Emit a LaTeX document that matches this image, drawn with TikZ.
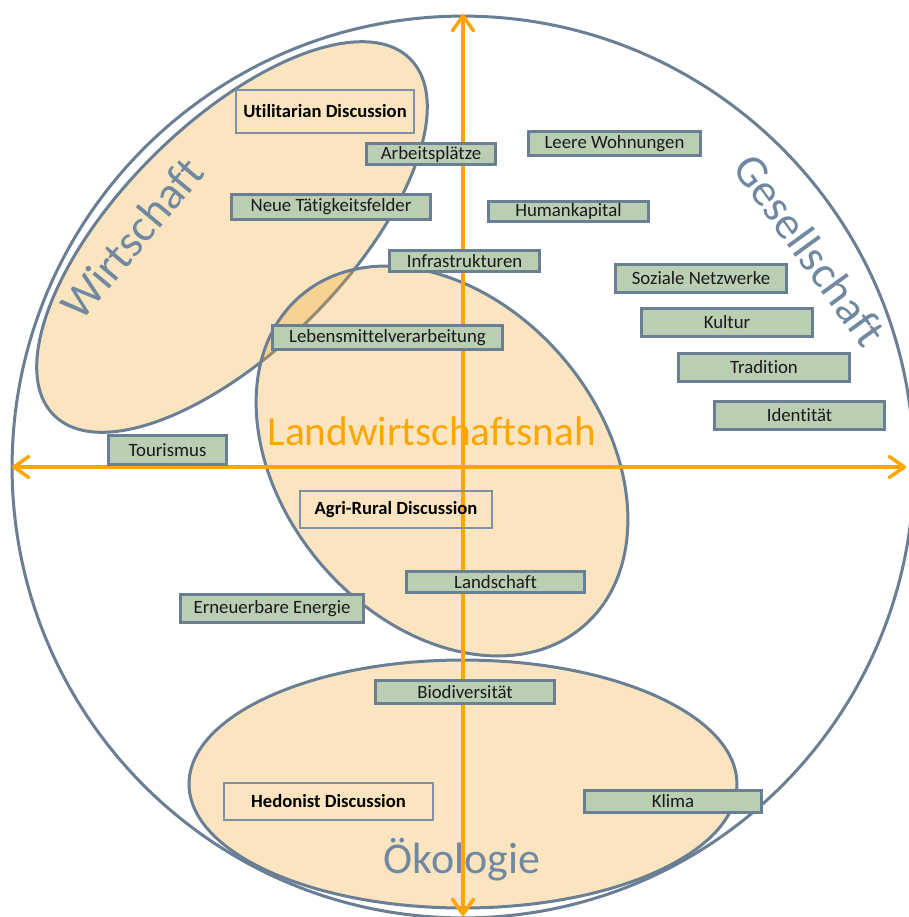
\documentclass[tikz,border=0pt]{standalone}
\usepackage{fontspec}
\setmainfont{Carlito}[Ligatures=NoCommon]
\usetikzlibrary{arrows.meta}
\definecolor{Slate}{HTML}{6A7E94}
\definecolor{SlateText}{HTML}{7088A0}
\definecolor{Sage}{HTML}{BACEB3}
\definecolor{Amber}{HTML}{FFA500}
\definecolor{Peach}{HTML}{F2A82D}

\begin{document}
\begin{tikzpicture}[x=0.02cm, y=-0.02cm,
    topic/.style={rectangle, draw=Slate, fill=Sage, line width=0.065cm,
                  inner sep=0pt, font=\fontsize{10.7}{12}\selectfont, text=black!90},
    debate/.style={rectangle, draw=Slate!85, line width=0.03cm,
                   inner sep=0pt, font=\fontsize{10.6}{12}\selectfont\bfseries},
    wh/.style 2 args={minimum width=#1*0.02cm, minimum height=#2*0.02cm},
    sector/.style={draw=Slate, line width=0.06cm, fill=Peach, fill opacity=0.3},
    realm/.style={text=SlateText, font=\fontsize{26}{30}\selectfont},
    axis/.style={draw=Amber, line width=0.07cm,
                 {Straight Barb[length=0.3cm, width=0.42cm, round]}-{Straight Barb[length=0.3cm, width=0.42cm, round]}}
]
    \useasboundingbox (0,0) rectangle (909,917);

    % Outer circle and the three sectors
    \draw[Slate, line width=0.06cm] (463,467) circle [radius=9.02cm];
    \draw[sector, rotate around={45:(232,237)}] (232,237) ellipse [x radius=5.04cm, y radius=2.26cm];
    \draw[sector, rotate around={130.5:(442,461)}] (442,461) ellipse [x radius=4.35cm, y radius=3.18cm];
    \draw[sector] (463,784) ellipse [x radius=5.48cm, y radius=2.48cm];

    % Domain names
    \node[realm, rotate=50] (wirtschaft) at (132,238) {Wirtschaft};
    \node[realm, rotate=-54] (gesellschaft) at (810,250) {Gesellschaft};
    \node[realm, font=\fontsize{25}{30}\selectfont, anchor=base] (oekologie) at (462,873) {Ökologie};
    \node[text=Amber, font=\fontsize{23.5}{28}\selectfont, anchor=base] (nah) at (432,445) {Landwirtschaftsnah};

    % Axes
    \coordinate (west) at (12,467);
    \coordinate (east) at (906,467);
    \coordinate (north) at (463,14);
    \coordinate (south) at (463,916);
    \draw[axis] (west) -- (east);
    \draw[axis] (south) -- (north);

    % Discussions
    \node[debate, wh={178}{43}] (util) at (325,111.5) {Utilitarian Discussion};
    \node[debate, wh={192}{37}] (agri) at (396,509.5) {Agri-Rural Discussion};
    \node[debate, wh={209}{37}] (hedo) at (328.5,801.5) {Hedonist Discussion};

    % Topics
    \node[topic, wh={129}{21}] (arbeit) at (431,154) {Arbeitsplätze};
    \node[topic, wh={172}{24}] (wohn) at (614.5,143.5) {Leere Wohnungen};
    \node[topic, wh={199}{25}] (neue) at (331,207) {Neue Tätigkeitsfelder};
    \node[topic, wh={160}{20}] (human) at (568.5,211.5) {Humankapital};
    \node[topic, wh={150}{21}] (infra) at (464.5,261) {Infrastrukturen};
    \node[topic, wh={171}{28}] (sozial) at (701,278.5) {Soziale Netzwerke};
    \node[topic, wh={230}{24}] (lebens) at (387.5,337.5) {Lebensmittelverarbeitung};
    \node[topic, wh={171}{28}] (kultur) at (727,322.5) {Kultur};
    \node[topic, wh={171}{28}] (trad) at (764,367.5) {Tradition};
    \node[topic, wh={170}{28}] (ident) at (799.5,415.5) {Identität};
    \node[topic, wh={118}{29}] (tour) at (167.5,450) {Tourismus};
    \node[topic, wh={178}{21}] (land) at (495.5,582) {Landschaft};
    \node[topic, wh={183}{28}] (energie) at (272,608.5) {Erneuerbare Energie};
    \node[topic, wh={179}{23}] (bio) at (465,692) {Biodiversität};
    \node[topic, wh={177}{22}] (klima) at (673,801.5) {Klima};
\end{tikzpicture}
\end{document}
